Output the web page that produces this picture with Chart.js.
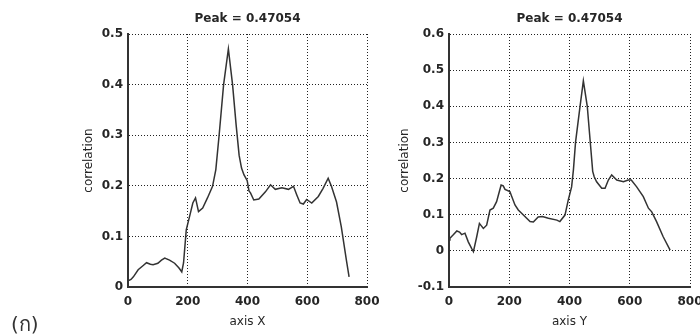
<!DOCTYPE html>
<html>
<head>
<meta charset="utf-8">
<script src="https://cdn.jsdelivr.net/npm/chart.js@4.4.1/dist/chart.umd.min.js"></script>
<style>
  html, body { margin: 0; padding: 0; background: #fff; }
  #wrap { position: relative; width: 700px; height: 334px; overflow: hidden; }
  #wrap canvas { position: absolute; left: 0; top: 0; }
  #label { position: absolute; left: 11px; top: 308px; font: 20px "DejaVu Sans", sans-serif; color: #333; }
</style>
</head>
<body>
<div id="wrap">
  <canvas id="chartX" width="700" height="334"></canvas>
  <canvas id="chartY" width="700" height="334"></canvas>
  <div id="label">(ก)</div>
</div>
<script>
// correlation along axis X
const posX = [0, 10, 18, 34, 50, 62, 75, 84, 100, 112, 123, 139, 156, 170, 180, 186, 195, 206, 217, 226,
  236, 250, 266, 283, 294, 305, 320, 336, 350, 362, 372, 380, 388, 399, 405, 410, 421, 438, 460, 477,
  493, 515, 537, 554, 565, 576, 587, 598, 615, 637, 653, 670, 681, 698, 714, 731, 740];
const corrX = [0.012, 0.015, 0.020, 0.034, 0.042, 0.048, 0.045, 0.044, 0.047, 0.053, 0.057, 0.053, 0.047, 0.038, 0.030, 0.048, 0.113, 0.139, 0.166, 0.176,
  0.149, 0.156, 0.176, 0.199, 0.232, 0.300, 0.400, 0.4705, 0.400, 0.320, 0.260, 0.235, 0.222, 0.210, 0.190, 0.186, 0.172, 0.174, 0.188, 0.202,
  0.193, 0.196, 0.193, 0.199, 0.182, 0.166, 0.164, 0.173, 0.166, 0.179, 0.195, 0.215, 0.199, 0.168, 0.119, 0.053, 0.020];

// correlation along axis Y
const posY = [0, 3, 15, 26, 35, 42, 53, 64, 75, 81, 92, 101, 114, 125, 136, 147, 158, 173, 180, 186,
  202, 219, 230, 247, 269, 280, 296, 310, 330, 358, 368, 385, 396, 407, 413, 420, 435, 446, 459, 470,
  477, 482, 490, 507, 518, 529, 540, 557, 579, 595, 605, 623, 645, 662, 673, 689, 711, 734];
const corrY = [0.030, 0.035, 0.045, 0.055, 0.052, 0.045, 0.049, 0.025, 0.007, -0.002, 0.039, 0.076, 0.062, 0.071, 0.113, 0.118, 0.136, 0.182, 0.180, 0.170,
  0.164, 0.127, 0.113, 0.099, 0.081, 0.080, 0.094, 0.095, 0.090, 0.085, 0.081, 0.099, 0.141, 0.177, 0.224, 0.300, 0.400, 0.4705, 0.400, 0.290,
  0.220, 0.205, 0.191, 0.173, 0.173, 0.196, 0.210, 0.196, 0.191, 0.196, 0.196, 0.177, 0.150, 0.118, 0.108, 0.081, 0.039, 0.002];

const titleText = 'Peak = 0.47054';
const xTicksMax = 800;
const ink = '#262626';
const fontFamily = '"DejaVu Sans", sans-serif';

function makeChart(canvasId, xs, ys, yMin, yMax, xLabel, box) {
  const points = xs.map((x, i) => ({ x: x, y: ys[i] }));
  return new Chart(document.getElementById(canvasId), {
    type: 'line',
    data: {
      datasets: [{
        data: points,
        borderColor: '#333',
        borderWidth: 1.5,
        pointRadius: 0,
        tension: 0,
        fill: false
      }]
    },
    options: {
      responsive: false,
      animation: false,
      events: [],
      layout: { padding: { left: box.padLeft, right: box.padRight, top: 0, bottom: 0 } },
      plugins: {
        legend: { display: false },
        tooltip: { enabled: false },
        title: {
          display: true,
          text: titleText,
          fullSize: false,
          color: ink,
          font: { family: fontFamily, size: 12, weight: 'bold' },
          padding: { top: 12, bottom: 7.6 }
        }
      },
      scales: {
        x: {
          type: 'linear',
          min: 0,
          max: xTicksMax,
          ticks: { stepSize: 200, color: ink, padding: 8, font: { family: fontFamily, size: 12, weight: 'bold' } },
          grid: { color: '#222', lineWidth: 1, drawTicks: false },
          border: { color: '#333', width: 2, dash: [1, 2] },
          title: { display: true, text: xLabel, color: ink, padding: { top: 0, bottom: 5 }, font: { family: fontFamily, size: 12 } },
          afterFit: (scale) => { scale.height = 47; scale.paddingLeft = 0; scale.paddingRight = 0; }
        },
        y: {
          min: yMin,
          max: yMax,
          ticks: { stepSize: 0.1, color: ink, padding: 5, font: { family: fontFamily, size: 12, weight: 'bold' },
            callback: (v) => Math.round(v * 10) / 10 },
          grid: { color: '#222', lineWidth: 1, drawTicks: false },
          border: { color: '#333', width: 2, dash: [1, 2] },
          title: { display: true, text: 'correlation', color: ink, padding: { top: box.titleGap, bottom: 0 }, font: { family: fontFamily, size: 12 } },
          afterFit: (scale) => { scale.width = box.yWidth; scale.paddingTop = 0; scale.paddingBottom = 0; }
        }
      }
    }
  });
}

makeChart('chartX', posX, corrX, 0, 0.5, 'axis X', { padLeft: 0, padRight: 333, yWidth: 128, titleGap: 82 });
makeChart('chartY', posY, corrY, -0.1, 0.6, 'axis Y', { padLeft: 380, padRight: 10, yWidth: 69, titleGap: 18 });
</script>
</body>
</html>
